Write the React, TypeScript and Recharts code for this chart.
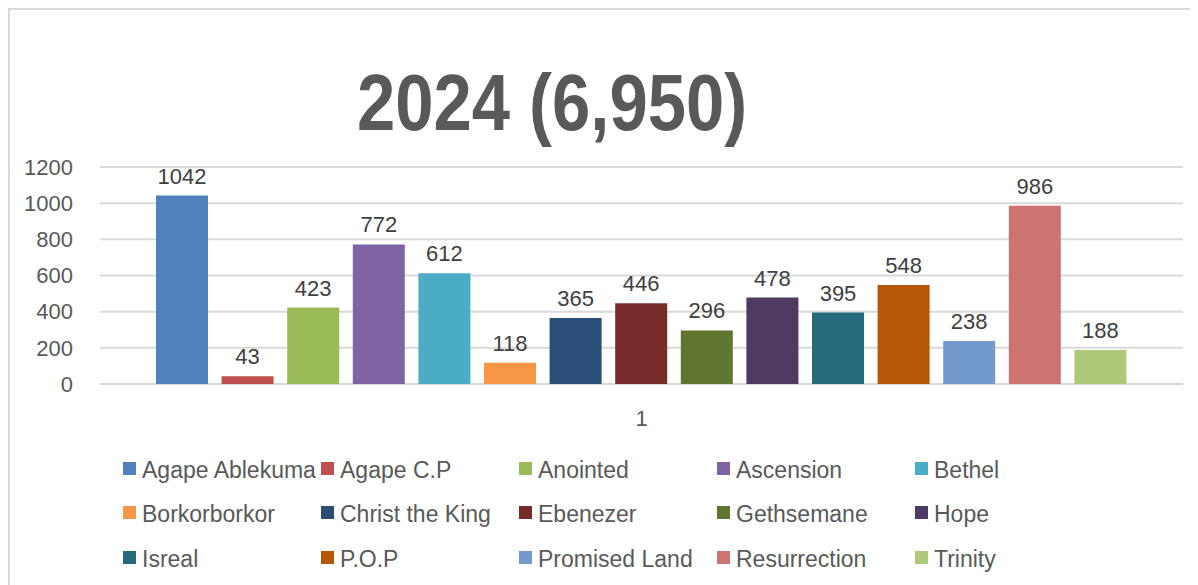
import React from 'react';
import { BarChart, Bar, XAxis, YAxis, CartesianGrid, LabelList } from 'recharts';

const categories = ['1'];
const churches = [
  'Agape Ablekuma', 'Agape C.P', 'Anointed', 'Ascension', 'Bethel',
  'Borkorborkor', 'Christ the King', 'Ebenezer', 'Gethsemane', 'Hope',
  'Isreal', 'P.O.P', 'Promised Land', 'Resurrection', 'Trinity',
];
const counts = [1042, 43, 423, 772, 612, 118, 365, 446, 296, 478, 395, 548, 238, 986, 188];
const colors = [
  '#4F81BD', '#C0504D', '#9BBB59', '#8064A2', '#4BACC6',
  '#F79646', '#2C4D75', '#772C2A', '#5F7530', '#4D3B62',
  '#276A7C', '#B65708', '#729ACA', '#CD7371', '#AFC97A',
];
const yTicks = [0, 200, 400, 600, 800, 1000, 1200];
const title = '2024 (6,950)';

const data = categories.map(cat => {
  const row: Record<string, string | number> = { name: cat };
  churches.forEach((c, i) => { row[c] = counts[i]; });
  return row;
});

const font = '"Liberation Sans", Arial, sans-serif';

const App: React.FC = () => {
  return (
    <div
      style={{
        position: 'relative',
        width: 1190,
        height: 577,
        overflow: 'hidden',
        borderLeft: '2px solid #d9d9d9',
        borderTop: '2px solid #d9d9d9',
        boxSizing: 'border-box',
        fontFamily: font,
        background: '#fff',
      }}
    >
      <svg width={1188} height={145} style={{ position: 'absolute', left: 0, top: 0 }}>
        <g transform="translate(542 120) scale(0.86 1)">
          <text x={0} y={0} textAnchor="middle" fontSize={80} fontWeight="bold" fill="#595959" fontFamily={font}>
            {title}
          </text>
        </g>
      </svg>
      <div style={{ position: 'absolute', left: 0, top: 0 }}>
        <BarChart
          width={1188}
          height={575}
          data={data}
          margin={{ top: 157, right: 15, left: 0, bottom: 0 }}
          barSize={52}
          barGap={13.6}
        >
          <CartesianGrid vertical={false} stroke="#d9d9d9" strokeWidth={2} />
          <XAxis
            dataKey="name"
            height={201}
            axisLine={false}
            tickLine={false}
            tickSize={0}
            tickMargin={26}
            tick={{ fill: '#595959', fontSize: 22, fontFamily: font }}
          />
          <YAxis
            width={90}
            domain={[0, 1200]}
            ticks={yTicks}
            axisLine={false}
            tickLine={false}
            tickSize={0}
            tickMargin={27}
            tick={{ fill: '#595959', fontSize: 22, fontFamily: font }}
          />
          {churches.map((c, i) => (
            <Bar key={c} dataKey={c} fill={colors[i]} isAnimationActive={false}>
              <LabelList dataKey={c} position="top" offset={12} fill="#404040" fontSize={22} fontFamily={font} />
            </Bar>
          ))}
        </BarChart>
      </div>
      {churches.map((c, i) => {
        const col = i % 5;
        const row = Math.floor(i / 5);
        return (
          <div
            key={c}
            style={{
              position: 'absolute',
              left: 113 + col * 198,
              top: 445 + row * 44.5,
              height: 30,
              display: 'flex',
              alignItems: 'center',
              whiteSpace: 'nowrap',
              fontSize: 23,
              color: '#595959',
            }}
          >
            <span style={{ display: 'inline-block', width: 13, height: 13, background: colors[i], marginRight: 6, marginTop: -4 }} />
            {c}
          </div>
        );
      })}
    </div>
  );
};

export default App;
